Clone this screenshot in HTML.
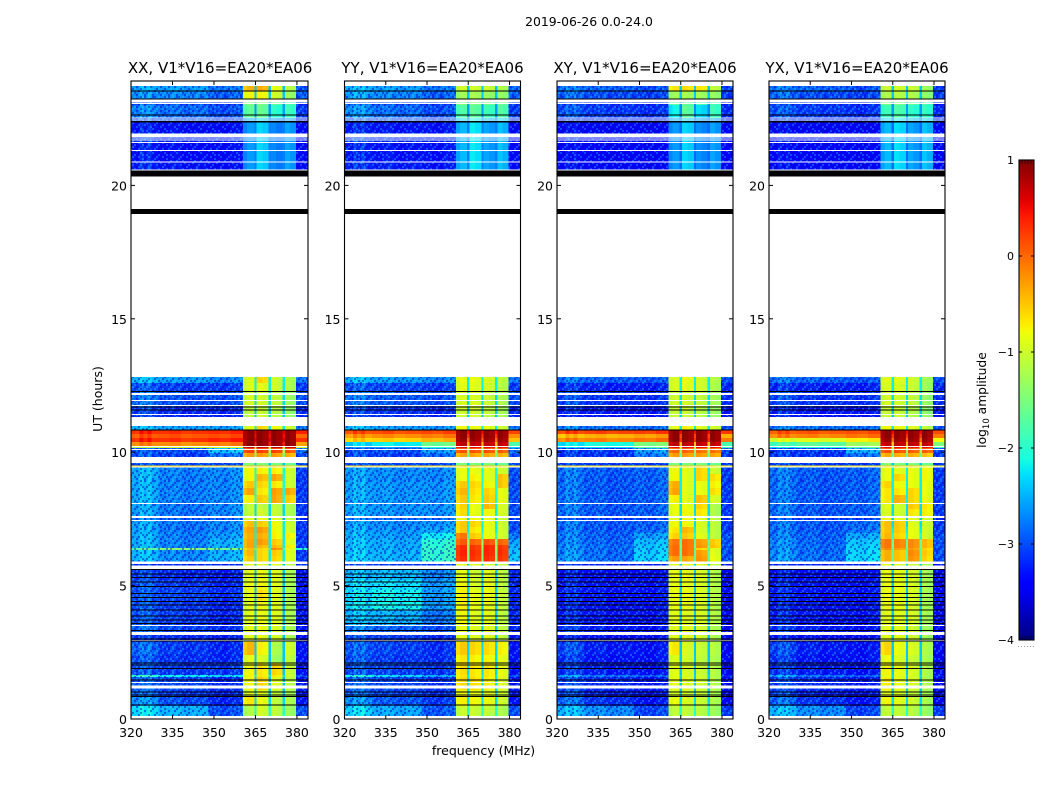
<!DOCTYPE html>
<html lang="en">
<head>
<meta charset="utf-8">
<title>2019-06-26 0.0-24.0</title>
<style>
html,body{margin:0;padding:0;background:#fff}
svg{display:block}
text{font-family:"DejaVu Sans","Liberation Sans",sans-serif;fill:#000}
</style>
</head>
<body>
<svg id="figure" xmlns="http://www.w3.org/2000/svg" width="1050" height="800" viewBox="0 0 1050 800">
<defs>
<pattern id="speckle" patternUnits="userSpaceOnUse" width="24" height="24"></pattern>
<linearGradient id="jet-gradient" x1="0" y1="1" x2="0" y2="0"></linearGradient>
</defs>
<text x="589" y="26" font-size="12.4" text-anchor="middle">2019-06-26 0.0-24.0</text>
<text x="483.5" y="755" font-size="12.5" text-anchor="middle">frequency (MHz)</text>
<text x="102" y="399" font-size="12.5" text-anchor="middle" transform="rotate(-90 102 399)">UT (hours)</text>
<text x="986" y="400" font-size="12.3" text-anchor="middle" transform="rotate(-90 986 400)">log<tspan font-size="8.5" dy="3">10</tspan><tspan dy="-3"> amplitude</tspan></text>
</svg>
<script>
// Frequency channels (MHz) and which per-row value each channel reads.
const channelEdges = [320,321.5,323,324.5,326,327.5,330,334,338,342,348,352,356,360.5,362,364.6,365.4,367.5,369.8,370.6,372.5,374.8,375.6,377.5,379.6,384];
const channelSlots = [0,0,0,0,0,0,1,1,1,1,2,2,2,3,3,8,4,4,8,5,5,8,6,6,7];
const channelOffsets = [0,-0.05,0.2,0.05,0.2,0,0,0.05,-0.05,0,0,-0.05,0.05,-0.08,0.04,0,0.04,-0.04,0,0.04,-0.04,0,0.04,-0.06,0];
// Time rows (UT hours), top to bottom.
const timeEdges = [23.72,23.54,23.24,23.01,22.53,22.38,21.96,21.59,21.29,20.91,20.58,12.82,12.59,12.29,11.69,11.32,10.98,10.83,10.68,10.53,10.38,10.23,10.16,9.97,9.82,9.59,9.51,9.44,9.18,8.92,8.66,8.40,8.10,7.87,7.61,7.42,7.20,6.97,6.75,6.52,6.41,6.33,6.11,5.88,5.58,5.21,4.83,4.46,4.09,3.52,3.26,2.89,2.40,2.10,1.65,1.57,1.09,0.82,0.49,0.11];
// log10 amplitude per row: left, middle, right, block1-4, tail, gap.
const rowsXX = [
[-2.6,-2.6,-2.8,-0.45,-0.4,-0.85,-1.15,-3.0,-2.4],
[-2.7,-2.7,-2.9,-0.8,-0.8,-1.0,-1.3,-2.9,-2.4],
[-3.0,-3.0,-3.1,-1.5,-1.5,-1.7,-1.8,-3.2,-2.6],
[-2.75,-2.85,-3.0,-1.7,-1.65,-2.0,-1.9,-3.1,-2.6],
[-3.0,-3.0,-3.1,-2.5,-2.3,-2.6,-2.5,-3.2,-2.8],
[-3.3,-3.35,-3.35,-2.65,-2.35,-2.75,-2.6,-3.35,-2.75],
[-3.15,-3.25,-3.25,-2.65,-2.35,-2.75,-2.6,-3.35,-2.75],
[-3.3,-3.35,-3.35,-2.65,-2.35,-2.75,-2.6,-3.35,-2.75],
[-3.3,-3.35,-3.35,-2.65,-2.35,-2.75,-2.6,-3.35,-2.75],
[-3.25,-3.3,-3.35,-2.65,-2.35,-2.75,-2.6,-3.35,-2.75],
null,
[-2.5,-2.6,-2.7,-0.95,-0.6,-1.0,-1.2,-2.8,-2.2],
[-3.0,-3.1,-3.1,-0.95,-0.9,-1.0,-1.2,-3.1,-2.2],
[-2.85,-3.0,-3.0,-1.0,-1.0,-1.1,-1.3,-3.0,-2.3],
[-3.1,-3.2,-3.2,-1.1,-1.05,-1.15,-1.35,-3.2,-2.4],
null,
[-2.5,-2.6,-2.6,-0.9,-0.6,-0.8,-1.0,-2.8,-2.2],
[0.3,0.3,0.35,0.9,0.9,0.9,0.9,0.4,0.6],
[0.05,0.1,0.15,0.9,0.9,0.9,0.9,0.0,0.5],
[0.3,0.3,0.4,0.9,0.9,0.9,0.9,0.3,0.6],
[-0.2,-0.2,-0.1,0.9,0.9,0.9,0.9,-0.3,0.4],
[-1.2,-1.0,-0.9,0.7,0.7,0.7,0.7,-1.0,-0.6],
[-3.0,-3.0,-2.4,0.2,0.2,0.2,0.1,-2.8,-1.2],
[-3.0,-3.1,-2.8,-0.3,-0.3,-0.3,-0.4,-3.0,-1.5],
null,
[-3.0,-3.0,-3.0,-1.5,-1.5,-1.5,-1.6,-3.0,-2.4],
[-0.6,-0.6,-0.6,-0.5,-0.5,-0.5,-0.6,-0.7,-0.6],
[-2.55,-2.75,-2.7,-0.8,-0.75,-0.75,-1.0,-3.1,-2.1],
[-2.55,-2.75,-2.7,-0.8,-0.45,-0.35,-1.0,-3.1,-2.1],
[-2.55,-2.75,-2.7,-0.55,-0.6,-0.7,-1.0,-3.1,-2.1],
[-2.55,-2.75,-2.7,-0.35,-0.7,-0.3,-0.35,-3.1,-2.1],
[-2.55,-2.75,-2.7,-0.75,-0.55,-0.35,-0.55,-3.1,-2.1],
[-2.6,-2.8,-2.7,-1.1,-1.1,-1.1,-1.2,-3.1,-2.3],
[-2.6,-2.8,-2.7,-1.1,-1.0,-1.05,-1.2,-3.1,-2.3],
[-2.8,-2.9,-2.9,-0.95,-0.85,-0.9,-1.1,-3.2,-2.5],
[-2.6,-2.8,-2.7,-0.5,-0.55,-0.8,-1.0,-3.1,-2.2],
[-2.6,-2.8,-2.7,-0.35,-0.3,-0.8,-1.0,-3.1,-2.2],
[-2.55,-2.75,-2.6,-0.4,-0.4,-0.75,-0.75,-3.1,-2.2],
[-2.55,-2.75,-2.5,-0.35,-0.3,-0.55,-0.9,-3.1,-2.2],
[-2.55,-2.75,-2.5,-0.35,-0.45,-0.45,-0.7,-3.1,-2.2],
[-1.7,-1.4,-1.5,-0.5,-0.6,-0.2,-0.9,-2.0,-1.8],
[-2.5,-2.7,-2.5,-0.45,-0.6,-0.55,-0.9,-3.1,-2.2],
[-2.5,-2.7,-2.5,-0.55,-0.6,-0.6,-0.9,-3.1,-2.2],
[-3.2,-3.2,-3.2,-0.9,-0.9,-0.9,-1.1,-3.2,-2.4],
[-3.1,-3.2,-3.25,-0.9,-0.85,-0.9,-1.2,-3.3,-2.4],
[-3.0,-3.1,-3.2,-0.85,-0.8,-0.9,-1.2,-3.3,-2.4],
[-3.0,-3.05,-3.15,-0.85,-0.65,-0.9,-1.2,-3.3,-2.4],
[-3.0,-3.1,-3.2,-0.9,-0.8,-0.9,-1.2,-3.3,-2.4],
[-3.0,-3.1,-3.2,-0.9,-0.85,-0.9,-1.2,-3.3,-2.4],
[-2.9,-3.05,-3.15,-0.9,-0.85,-0.95,-1.2,-3.3,-2.4],
[-3.15,-3.2,-3.25,-0.9,-0.85,-0.95,-1.2,-3.4,-2.4],
[-2.9,-3.1,-3.2,-0.45,-0.75,-1.2,-1.0,-3.3,-2.4],
[-3.0,-3.15,-3.2,-0.9,-0.95,-1.3,-1.1,-3.3,-2.4],
[-3.0,-3.1,-3.1,-0.8,-0.7,-0.6,-1.05,-3.3,-2.4],
[-2.0,-2.2,-2.3,-0.8,-0.7,-0.7,-1.0,-3.0,-2.2],
[-2.95,-3.05,-3.2,-0.8,-0.6,-0.9,-1.1,-3.3,-2.4],
[-2.9,-3.1,-3.2,-0.9,-0.9,-1.1,-1.2,-3.3,-2.4],
[-2.7,-3.0,-3.2,-0.7,-0.85,-1.1,-1.2,-3.3,-2.3],
[-2.3,-2.5,-3.0,-1.2,-1.0,-1.1,-1.3,-3.0,-2.0]
];
const rowsYY = [
[-2.55,-2.6,-2.8,-1.0,-1.0,-1.05,-1.2,-2.9,-2.4],
[-2.6,-2.7,-2.9,-1.3,-1.25,-1.35,-1.35,-2.9,-2.4],
[-2.9,-3.0,-3.1,-1.5,-1.5,-1.6,-1.6,-3.1,-2.5],
[-2.7,-2.85,-3.0,-1.8,-1.7,-1.9,-1.75,-3.1,-2.6],
[-3.0,-3.0,-3.1,-2.3,-2.15,-2.4,-2.3,-3.2,-2.7],
[-3.25,-3.3,-3.3,-2.5,-2.25,-2.6,-2.45,-3.35,-2.75],
[-3.1,-3.2,-3.25,-2.5,-2.25,-2.6,-2.45,-3.35,-2.75],
[-3.25,-3.3,-3.3,-2.5,-2.25,-2.6,-2.45,-3.35,-2.75],
[-3.25,-3.3,-3.3,-2.5,-2.25,-2.6,-2.45,-3.35,-2.75],
[-3.2,-3.25,-3.3,-2.5,-2.25,-2.6,-2.45,-3.35,-2.75],
null,
[-2.5,-2.6,-2.7,-0.85,-0.85,-0.95,-1.1,-2.8,-2.2],
[-3.0,-3.05,-3.1,-0.9,-0.9,-1.0,-1.15,-3.1,-2.2],
[-2.85,-2.95,-3.0,-0.95,-0.95,-1.05,-1.2,-3.0,-2.3],
[-3.1,-3.15,-3.2,-1.0,-1.0,-1.1,-1.25,-3.2,-2.4],
null,
[-2.5,-2.6,-2.65,-0.8,-0.8,-0.85,-1.0,-2.8,-2.2],
[0.1,0.15,0.2,0.9,0.9,0.9,0.9,0.2,0.5],
[-0.3,-0.2,-0.1,0.9,0.9,0.9,0.9,-0.2,0.3],
[-0.6,-0.55,-0.4,0.85,0.85,0.85,0.85,-0.5,0.0],
[-2.4,-2.2,-1.6,0.7,0.7,0.7,0.7,-1.8,-0.5],
[-2.7,-2.6,-2.0,0.5,0.5,0.5,0.5,-2.4,-0.9],
[-3.05,-3.0,-2.6,0.1,0.1,0.1,0.05,-2.8,-1.3],
[-3.05,-3.1,-2.85,-0.35,-0.35,-0.35,-0.4,-3.0,-1.6],
null,
[-3.0,-3.0,-3.0,-1.5,-1.5,-1.5,-1.6,-3.0,-2.4],
[-0.6,-0.6,-0.6,-0.5,-0.5,-0.5,-0.6,-0.7,-0.6],
[-2.65,-2.7,-2.7,-0.85,-0.85,-0.9,-1.0,-3.0,-2.1],
[-2.65,-2.7,-2.7,-0.85,-0.75,-0.9,-0.5,-3.0,-2.1],
[-2.6,-2.65,-2.65,-0.55,-0.6,-0.8,-0.5,-3.0,-2.1],
[-2.6,-2.65,-2.65,-0.45,-0.65,-0.6,-0.85,-3.0,-2.1],
[-2.6,-2.65,-2.65,-0.55,-0.7,-0.55,-0.85,-3.0,-2.1],
[-2.6,-2.65,-2.65,-0.6,-0.85,-0.45,-0.95,-3.0,-2.2],
[-2.6,-2.65,-2.65,-0.65,-0.85,-0.8,-0.95,-3.0,-2.2],
[-2.8,-2.85,-2.85,-0.8,-0.8,-0.85,-1.0,-3.1,-2.3],
[-2.65,-2.7,-2.65,-0.55,-0.6,-0.85,-1.0,-3.0,-2.2],
[-2.6,-2.65,-2.55,-0.55,-0.7,-0.85,-1.0,-3.0,-2.2],
[-2.55,-2.6,-2.2,-0.1,-0.55,-0.85,-1.0,-2.8,-1.9],
[-2.5,-2.55,-2.0,0.05,0.0,0.1,0.0,-2.6,-1.4],
[-2.5,-2.55,-1.95,0.3,0.25,0.35,0.25,-2.5,-1.3],
[-2.5,-2.55,-1.95,0.3,0.25,0.35,0.25,-2.5,-1.3],
[-2.45,-2.5,-1.95,0.35,0.3,0.35,0.3,-2.4,-1.5],
[-2.45,-2.5,-1.95,0.3,0.25,0.3,0.25,-2.4,-1.5],
[-3.1,-3.15,-3.1,-0.9,-0.9,-0.9,-1.1,-3.2,-2.4],
[-2.5,-2.45,-2.7,-0.85,-1.0,-0.9,-1.1,-3.2,-2.4],
[-2.35,-2.25,-2.6,-0.8,-0.95,-0.85,-1.1,-3.2,-2.4],
[-2.3,-2.15,-2.6,-0.75,-0.85,-0.85,-1.05,-3.2,-2.4],
[-2.3,-2.15,-2.6,-0.75,-0.85,-0.85,-1.05,-3.2,-2.4],
[-2.5,-2.5,-2.8,-0.8,-0.9,-0.9,-1.1,-3.2,-2.4],
[-2.8,-2.9,-3.0,-0.85,-0.9,-0.9,-1.1,-3.2,-2.4],
[-3.05,-3.1,-3.2,-0.85,-0.9,-0.9,-1.1,-3.3,-2.4],
[-2.95,-3.05,-3.15,-0.55,-0.6,-0.65,-0.75,-3.3,-2.3],
[-3.0,-3.1,-3.15,-0.7,-0.75,-0.8,-0.85,-3.3,-2.3],
[-3.0,-3.05,-3.1,-0.65,-0.7,-0.7,-0.85,-3.3,-2.3],
[-2.1,-2.3,-2.5,-0.7,-0.7,-0.7,-0.85,-3.0,-2.2],
[-2.95,-3.05,-3.15,-0.65,-0.65,-0.75,-0.9,-3.3,-2.3],
[-2.9,-3.05,-3.15,-0.8,-0.85,-0.9,-1.0,-3.3,-2.3],
[-2.7,-2.95,-3.1,-0.75,-0.8,-0.85,-1.0,-3.3,-2.3],
[-2.35,-2.55,-2.95,-1.05,-1.05,-1.1,-1.2,-3.0,-2.0]
];
const rowsXY = [
[-2.85,-2.9,-3.0,-0.7,-0.65,-0.7,-1.1,-3.1,-2.4],
[-2.9,-3.0,-3.05,-1.3,-1.25,-1.3,-1.35,-3.1,-2.4],
[-3.1,-3.15,-3.2,-1.7,-1.7,-1.8,-1.85,-3.3,-2.6],
[-3.0,-3.1,-3.15,-2.2,-1.7,-2.3,-1.9,-3.2,-2.7],
[-3.2,-3.2,-3.25,-2.55,-2.35,-2.6,-2.5,-3.3,-2.8],
[-3.45,-3.45,-3.45,-2.65,-2.35,-2.7,-2.6,-3.45,-2.85],
[-3.35,-3.35,-3.4,-2.65,-2.35,-2.7,-2.6,-3.45,-2.85],
[-3.45,-3.45,-3.45,-2.65,-2.35,-2.7,-2.6,-3.45,-2.85],
[-3.45,-3.45,-3.45,-2.65,-2.35,-2.7,-2.6,-3.45,-2.85],
[-3.4,-3.4,-3.45,-2.65,-2.35,-2.7,-2.6,-3.45,-2.85],
null,
[-2.85,-2.9,-2.95,-0.95,-0.85,-1.0,-1.15,-3.0,-2.2],
[-3.2,-3.25,-3.25,-0.95,-0.9,-1.0,-1.2,-3.2,-2.2],
[-3.05,-3.15,-3.15,-1.0,-1.0,-1.1,-1.25,-3.15,-2.3],
[-3.25,-3.3,-3.3,-1.05,-1.05,-1.15,-1.3,-3.3,-2.4],
null,
[-2.8,-2.85,-2.85,-0.85,-0.75,-0.9,-1.0,-3.0,-2.2],
[0.15,0.2,0.25,0.9,0.9,0.9,0.9,0.25,0.5],
[-0.5,-0.4,-0.3,0.9,0.9,0.9,0.9,-0.4,0.2],
[-0.2,-0.15,-0.05,0.9,0.9,0.9,0.9,-0.1,0.3],
[-2.3,-2.1,-1.5,0.7,0.7,0.7,0.7,-1.8,-0.5],
[-2.4,-2.3,-1.7,0.5,0.5,0.5,0.5,-1.9,-0.8],
[-3.15,-3.1,-2.6,0.0,0.0,-0.05,-0.05,-3.0,-1.3],
[-3.15,-3.15,-2.75,-0.3,-0.3,-0.3,-0.35,-3.1,-1.6],
null,
[-3.1,-3.1,-3.1,-1.5,-1.5,-1.5,-1.6,-3.1,-2.4],
[-0.7,-0.7,-0.7,-0.55,-0.55,-0.55,-0.65,-0.8,-0.7],
[-2.85,-2.95,-2.9,-0.8,-0.9,-0.6,-1.0,-3.1,-2.2],
[-2.85,-2.95,-2.9,-0.8,-0.9,-0.6,-0.65,-3.1,-2.2],
[-2.85,-2.95,-2.9,-0.4,-0.9,-0.85,-0.75,-3.1,-2.2],
[-2.85,-2.95,-2.9,-0.35,-0.9,-0.85,-0.65,-3.1,-2.2],
[-2.85,-2.95,-2.9,-0.75,-0.9,-0.5,-0.95,-3.1,-2.2],
[-2.85,-2.95,-2.9,-0.85,-0.85,-0.6,-1.2,-3.1,-2.3],
[-2.85,-2.95,-2.9,-0.85,-0.8,-0.7,-1.2,-3.1,-2.3],
[-3.0,-3.05,-3.05,-0.9,-0.8,-0.9,-1.1,-3.2,-2.4],
[-2.85,-2.95,-2.9,-0.8,-0.8,-0.95,-1.1,-3.1,-2.3],
[-2.85,-2.95,-2.85,-0.7,-0.45,-0.95,-1.1,-3.1,-2.2],
[-2.8,-2.9,-2.6,-0.6,-0.55,-0.9,-1.1,-3.0,-2.0],
[-2.8,-2.9,-2.45,-0.1,-0.05,-0.3,-0.55,-3.0,-1.7],
[-2.75,-2.85,-2.4,-0.05,-0.05,-0.25,-0.5,-3.0,-1.6],
[-2.75,-2.85,-2.4,-0.05,-0.05,-0.6,-0.9,-3.0,-1.7],
[-2.7,-2.85,-2.35,-0.05,-0.05,-0.3,-0.9,-3.0,-1.7],
[-2.7,-2.85,-2.35,-0.3,-0.35,-0.25,-0.85,-3.0,-1.7],
[-3.25,-3.25,-3.25,-0.9,-0.9,-0.95,-1.1,-3.3,-2.4],
[-3.3,-3.35,-3.35,-0.85,-0.85,-0.95,-1.15,-3.4,-2.4],
[-3.25,-3.3,-3.3,-0.85,-0.85,-0.95,-1.15,-3.4,-2.4],
[-3.25,-3.3,-3.3,-0.85,-0.85,-0.95,-1.15,-3.4,-2.4],
[-3.25,-3.3,-3.3,-0.85,-0.85,-0.95,-1.15,-3.4,-2.4],
[-3.25,-3.3,-3.3,-0.9,-0.9,-0.95,-1.15,-3.4,-2.4],
[-3.15,-3.25,-3.3,-0.9,-0.9,-1.0,-1.2,-3.4,-2.4],
[-3.3,-3.35,-3.35,-0.9,-0.9,-1.0,-1.2,-3.4,-2.4],
[-3.05,-3.25,-3.3,-0.7,-0.95,-1.05,-1.15,-3.4,-2.4],
[-3.15,-3.3,-3.3,-0.95,-1.0,-1.1,-1.2,-3.4,-2.4],
[-3.15,-3.25,-3.3,-0.9,-0.95,-1.05,-1.15,-3.4,-2.4],
[-2.6,-2.8,-2.9,-0.9,-0.95,-1.0,-1.15,-3.2,-2.3],
[-3.1,-3.2,-3.3,-0.85,-0.9,-1.0,-1.15,-3.4,-2.4],
[-3.05,-3.25,-3.3,-0.95,-1.0,-1.05,-1.2,-3.4,-2.4],
[-2.9,-3.15,-3.3,-0.85,-0.95,-1.05,-1.2,-3.4,-2.3],
[-2.5,-2.7,-3.05,-1.1,-1.1,-1.15,-1.3,-3.1,-2.0]
];
const rowsYX = [
[-2.85,-2.9,-3.0,-1.05,-1.0,-1.05,-1.3,-3.1,-2.4],
[-2.9,-3.0,-3.05,-1.2,-1.15,-1.2,-1.4,-3.1,-2.4],
[-3.1,-3.15,-3.2,-1.55,-1.55,-1.7,-1.8,-3.3,-2.6],
[-3.0,-3.1,-3.15,-1.9,-1.8,-2.0,-1.95,-3.2,-2.6],
[-3.2,-3.2,-3.25,-2.3,-2.2,-2.4,-2.35,-3.3,-2.8],
[-3.45,-3.45,-3.45,-2.5,-2.3,-2.6,-2.45,-3.45,-2.85],
[-3.35,-3.35,-3.4,-2.5,-2.3,-2.6,-2.45,-3.45,-2.85],
[-3.45,-3.45,-3.45,-2.5,-2.3,-2.6,-2.45,-3.45,-2.85],
[-3.45,-3.45,-3.45,-2.5,-2.3,-2.6,-2.45,-3.45,-2.85],
[-3.4,-3.4,-3.45,-2.5,-2.3,-2.6,-2.45,-3.45,-2.85],
null,
[-2.85,-2.9,-2.95,-0.9,-0.9,-1.0,-1.25,-3.0,-2.2],
[-3.2,-3.25,-3.25,-0.95,-0.95,-1.05,-1.3,-3.2,-2.2],
[-3.05,-3.15,-3.15,-1.0,-1.0,-1.1,-1.35,-3.15,-2.3],
[-3.25,-3.3,-3.3,-1.05,-1.05,-1.15,-1.4,-3.3,-2.4],
null,
[-2.8,-2.85,-2.85,-0.8,-0.8,-0.9,-1.1,-3.0,-2.2],
[0.05,0.1,0.15,0.9,0.9,0.9,0.9,0.15,0.5],
[-0.2,-0.15,-0.05,0.9,0.9,0.9,0.9,-0.1,0.3],
[-1.0,-0.9,-0.7,0.85,0.85,0.85,0.85,-0.8,0.0],
[-1.9,-1.7,-1.3,0.7,0.7,0.7,0.7,-1.5,-0.5],
[-2.3,-2.1,-1.7,0.5,0.5,0.5,0.5,-1.9,-0.8],
[-3.15,-3.1,-2.5,0.1,0.1,0.05,0.05,-3.0,-1.3],
[-3.15,-3.15,-2.8,-0.4,-0.4,-0.4,-0.5,-3.1,-1.6],
null,
[-3.1,-3.1,-3.1,-1.5,-1.5,-1.5,-1.6,-3.1,-2.4],
[-0.7,-0.7,-0.7,-0.55,-0.55,-0.55,-0.7,-0.8,-0.7],
[-2.85,-2.95,-2.9,-0.85,-0.9,-0.85,-0.8,-3.1,-2.2],
[-2.85,-2.95,-2.9,-0.85,-0.6,-0.85,-0.8,-3.1,-2.2],
[-2.85,-2.95,-2.9,-0.6,-0.8,-0.85,-0.85,-3.1,-2.2],
[-2.85,-2.95,-2.9,-0.7,-0.7,-0.6,-0.85,-3.1,-2.2],
[-2.85,-2.95,-2.9,-0.7,-0.4,-0.6,-0.85,-3.1,-2.2],
[-2.85,-2.95,-2.9,-0.9,-1.0,-0.55,-0.7,-3.1,-2.3],
[-2.85,-2.95,-2.9,-0.95,-1.0,-0.7,-0.75,-3.1,-2.3],
[-3.0,-3.05,-3.05,-0.8,-0.85,-0.9,-1.0,-3.2,-2.4],
[-2.85,-2.95,-2.85,-0.5,-0.55,-0.9,-1.0,-3.1,-2.3],
[-2.85,-2.95,-2.8,-0.5,-0.55,-0.85,-1.0,-3.1,-2.2],
[-2.8,-2.9,-2.55,-0.45,-0.6,-0.85,-1.0,-3.0,-2.0],
[-2.75,-2.9,-2.4,-0.1,-0.15,-0.2,-0.45,-3.0,-1.6],
[-2.75,-2.85,-2.35,-0.1,-0.15,-0.2,-0.45,-3.0,-1.6],
[-2.75,-2.85,-2.35,-0.2,-0.3,-0.3,-0.6,-3.0,-1.7],
[-2.7,-2.85,-2.3,-0.4,-0.5,-0.2,-0.55,-3.0,-1.7],
[-2.7,-2.85,-2.3,-0.4,-0.5,-0.25,-0.6,-3.0,-1.7],
[-3.25,-3.25,-3.25,-0.9,-0.95,-1.0,-1.25,-3.3,-2.4],
[-3.3,-3.35,-3.35,-0.85,-0.85,-0.95,-1.25,-3.4,-2.4],
[-3.25,-3.3,-3.3,-0.85,-0.85,-0.95,-1.25,-3.4,-2.4],
[-3.25,-3.3,-3.3,-0.85,-0.85,-0.95,-1.25,-3.4,-2.4],
[-3.25,-3.3,-3.3,-0.85,-0.85,-0.95,-1.25,-3.4,-2.4],
[-3.25,-3.3,-3.3,-0.9,-0.9,-0.95,-1.25,-3.4,-2.4],
[-3.15,-3.25,-3.3,-0.9,-0.9,-1.0,-1.3,-3.4,-2.4],
[-3.3,-3.35,-3.35,-0.9,-0.9,-1.0,-1.3,-3.4,-2.4],
[-3.05,-3.25,-3.3,-0.6,-0.85,-0.95,-1.2,-3.4,-2.4],
[-3.15,-3.3,-3.3,-0.85,-0.95,-1.05,-1.25,-3.4,-2.4],
[-3.15,-3.25,-3.3,-0.8,-0.85,-0.95,-1.2,-3.4,-2.4],
[-2.6,-2.8,-2.9,-0.85,-0.9,-1.0,-1.2,-3.2,-2.3],
[-3.1,-3.2,-3.3,-0.75,-0.85,-0.95,-1.2,-3.4,-2.4],
[-3.05,-3.25,-3.3,-0.9,-0.95,-1.05,-1.25,-3.4,-2.4],
[-2.9,-3.15,-3.3,-0.8,-0.9,-1.0,-1.25,-3.4,-2.3],
[-2.5,-2.7,-3.05,-1.1,-1.1,-1.15,-1.35,-3.1,-2.0]
];
// Flagged time ranges in UT hours [high, low].
const whiteFlags = [[23.22,23.10],[23.08,23.05],[22.54,22.51],[22.47,22.44],[21.95,21.82],[21.79,21.76],[21.72,21.69],[21.63,21.60],[21.33,21.29],[20.90,20.85],[20.60,20.57],[12.21,12.15],[11.96,11.91],[11.77,11.73],[11.43,11.39],[10.24,10.21],[10.12,10.09],[9.46,9.42],[8.10,8.07],[7.61,7.53],[7.46,7.42],[5.90,5.81],[5.76,5.61],[3.52,3.49],[3.26,3.14],[2.96,2.93],[1.39,1.36],[1.25,1.14]];
const blackBands = [[20.56,20.34],[19.11,18.93],[12.30,12.26],[22.41,22.35]];
const blackLines = [23.53,23.24,22.63,11.70,11.58,10.83,5.60,5.43,5.31,5.13,4.96,4.71,4.56,4.40,4.27,4.09,3.86,3.71,3.58,3.31,3.00,2.92,2.09,2.02,1.90,1.46,1.02,0.90,0.84,0.52];
// Time ranges whose off-band channels show fine noise texture.
const noisySpans = [[23.72,20.58],[12.82,11.32],[10.98,10.83],[10.16,9.82],[9.59,9.51],[9.44,0.11]];
const freqTicks = [320,335,350,365,380];
const hourTicks = [0,5,10,15,20];
const colorTicks = [-4,-3,-2,-1,0,1];
const panelNames = ['XX','YY','XY','YX'];
const panelRows = [rowsXX,rowsYY,rowsXY,rowsYX];
const panelLeft = [131,344.5,557,769];
const panelRight = [308,520.5,733,945];
// Decorative background-noise tile: D darker, L lighter, '.' unchanged.
const noiseTile = ['D.L.DD.L..DL','.L.D..L.D...','L.D..L.D.LD.','.D.LD...L..D','D...L.D..DL.','.LD..D.LD..L','..L.D.L..LD.','D..D.L..D..L','.L..L.DL..D.','L.D..D..LD..','.D.L..LD..LD','D.L.D...DL..'];

const svgNS = 'http://www.w3.org/2000/svg';
const fig = document.getElementById('figure');
const V_MIN = -4, V_MAX = 1;
const PLOT_TOP = 81, PLOT_BOTTOM = 719, PX_PER_HOUR = 26.68;
const F_MIN = 320, F_MAX = 384;
const CB_L = 1019, CB_R = 1034, CB_T = 160, CB_B = 640;

function make(tag, attrs, parent) {
  const e = document.createElementNS(svgNS, tag);
  for (const k in attrs) e.setAttribute(k, attrs[k]);
  (parent || fig).appendChild(e);
  return e;
}
function yScale(h) { return PLOT_BOTTOM - h * PX_PER_HOUR; }
function xScale(i, f) { return panelLeft[i] + (f - F_MIN) * (panelRight[i] - panelLeft[i]) / (F_MAX - F_MIN); }
function cbScale(v) { return CB_B - (v - V_MIN) * (CB_B - CB_T) / (V_MAX - V_MIN); }
function interp(stops, t) {
  for (let i = 1; i < stops.length; i++) {
    if (t <= stops[i][0]) {
      const a = stops[i - 1], b = stops[i];
      return a[1] + (b[1] - a[1]) * (t - a[0]) / (b[0] - a[0]);
    }
  }
  return stops[stops.length - 1][1];
}
const jetR = [[0,0],[0.35,0],[0.66,1],[0.89,1],[1,0.5]];
const jetG = [[0,0],[0.125,0],[0.375,1],[0.64,1],[0.91,0],[1,0]];
const jetB = [[0,0.5],[0.11,1],[0.34,1],[0.65,0],[1,0]];
function jet(v) {
  const t = Math.max(0, Math.min(1, (v - V_MIN) / (V_MAX - V_MIN)));
  const c = [jetR, jetG, jetB].map(s => Math.round(255 * interp(s, t)));
  return 'rgb(' + c.join(',') + ')';
}

const speckle = document.getElementById('speckle');
noiseTile.forEach(function (line, ty) {
  line.split('').forEach(function (ch, tx) {
    if (ch === '.') return;
    make('rect', {x: tx * 2, y: ty * 2, width: 2, height: 2, fill: ch === 'D' ? '#0000c8' : '#30e8ff', 'fill-opacity': ch === 'D' ? 0.45 : 0.3}, speckle);
  });
});

panelNames.forEach(function (name, p) {
  const key = name.toLowerCase();
  const L = panelLeft[p], R = panelRight[p];
  const group = make('g', {});
  
  
  const rows = panelRows[p];
  rows.forEach(function (row, r) {
    if (!row) return;
    const y0 = yScale(timeEdges[r]), y1 = yScale(timeEdges[r + 1]);
    channelSlots.forEach(function (slot, c) {
      const x0 = xScale(p, channelEdges[c]), x1 = xScale(p, channelEdges[c + 1]);
      const cell = make('rect', {x: x0.toFixed(2), y: y0.toFixed(2), width: (x1 - x0).toFixed(2), height: (y1 - y0).toFixed(2), fill: jet(row[slot] + channelOffsets[c]), 'shape-rendering': 'crispEdges'}, group);
      
      
    });
  });
  noisySpans.forEach(function (span) {
    [[channelEdges[0], channelEdges[13]], [channelEdges[24], channelEdges[25]]].forEach(function (range) {
      const n = make('rect', {x: xScale(p, range[0]), y: yScale(span[0]), width: xScale(p, range[1]) - xScale(p, range[0]), height: yScale(span[1]) - yScale(span[0]), fill: 'url(#speckle)', 'shape-rendering': 'crispEdges'}, group);
      
      
    });
  });
  whiteFlags.forEach(function (f) {
    const w = make('rect', {x: L, y: yScale(f[0]), width: R - L, height: Math.max(1, yScale(f[1]) - yScale(f[0])), fill: '#fff', 'shape-rendering': 'crispEdges'}, group);
    
    
  });
  blackBands.forEach(function (f) {
    const b = make('rect', {x: L, y: yScale(f[0]), width: R - L, height: yScale(f[1]) - yScale(f[0]), fill: '#000', 'shape-rendering': 'crispEdges'}, group);
    
    
  });
  blackLines.forEach(function (h) {
    const l = make('line', {x1: L, x2: R, y1: yScale(h), y2: yScale(h), stroke: '#000', 'stroke-width': 1, 'shape-rendering': 'crispEdges'}, group);
    
    
  });
  const frame = make('rect', {x: L, y: PLOT_TOP, width: R - L, height: PLOT_BOTTOM - PLOT_TOP, fill: 'none', stroke: '#000', 'stroke-width': 1.1}, group);
  
  
  freqTicks.forEach(function (f) {
    const x = xScale(p, f);
    const t1 = make('line', {x1: x, x2: x, y1: PLOT_BOTTOM, y2: PLOT_BOTTOM - 4, stroke: '#000'}, group);
    
    
    const t2 = make('line', {x1: x, x2: x, y1: PLOT_TOP, y2: PLOT_TOP + 4, stroke: '#000'}, group);
    
    
    const lab = make('text', {x: x, y: 737, 'font-size': 12.5, 'text-anchor': 'middle'}, group);
    
    
    lab.textContent = f;
  });
  hourTicks.forEach(function (h) {
    const y = yScale(h);
    const t1 = make('line', {x1: L, x2: L + 4, y1: y, y2: y, stroke: '#000'}, group);
    
    
    const t2 = make('line', {x1: R, x2: R - 4, y1: y, y2: y, stroke: '#000'}, group);
    
    
    const lab = make('text', {x: L - 4, y: y + 5, 'font-size': 12.5, 'text-anchor': 'end'}, group);
    
    
    lab.textContent = h;
  });
  const title = make('text', {x: (L + R) / 2 + (p === 0 ? 0.6 : 0), y: 73, 'font-size': 15, 'text-anchor': 'middle'}, group);
  
  
  title.textContent = name + ', V1*V16=EA20*EA06';
});

// Colorbar
const grad = document.getElementById('jet-gradient');
for (let s = 0; s <= 50; s++) {
  const v = V_MIN + (V_MAX - V_MIN) * s / 50;
  make('stop', {offset: (s * 2) + '%', 'stop-color': jet(v)}, grad);
}
const cbGroup = make('g', {});


const cbFill = make('rect', {x: CB_L, y: CB_T, width: CB_R - CB_L, height: CB_B - CB_T, fill: 'url(#jet-gradient)', stroke: '#000', 'stroke-width': 1.1}, cbGroup);


for (let k = 1; k < 5; k++) {
  const x = CB_L + k * (CB_R - CB_L) / 5;
  const mt = make('line', {x1: x, x2: x, y1: CB_T, y2: CB_T + 4, stroke: '#200', 'stroke-width': 0.8}, cbGroup);
  
  
  const mb = make('line', {x1: x, x2: x, y1: CB_B, y2: CB_B - 4, stroke: '#002', 'stroke-width': 0.8}, cbGroup);
  
  
}
colorTicks.forEach(function (v) {
  const y = cbScale(v);
  const t1 = make('line', {x1: CB_L, x2: CB_L + 3, y1: y, y2: y, stroke: '#000'}, cbGroup);
  
  
  const t2 = make('line', {x1: CB_R, x2: CB_R - 3, y1: y, y2: y, stroke: '#000'}, cbGroup);
  
  
  const lab = make('text', {x: CB_L - 5, y: y + 4, 'font-size': 11, 'text-anchor': 'end'}, cbGroup);
  
  
  lab.textContent = (v < 0 ? '\u2212' + Math.abs(v) : String(v));
});
const dots = make('line', {x1: CB_L - 1, x2: CB_R, y1: 646.5, y2: 646.5, stroke: '#999', 'stroke-width': 1, 'stroke-dasharray': '1 2'}, cbGroup);


</script>
</body>
</html>
